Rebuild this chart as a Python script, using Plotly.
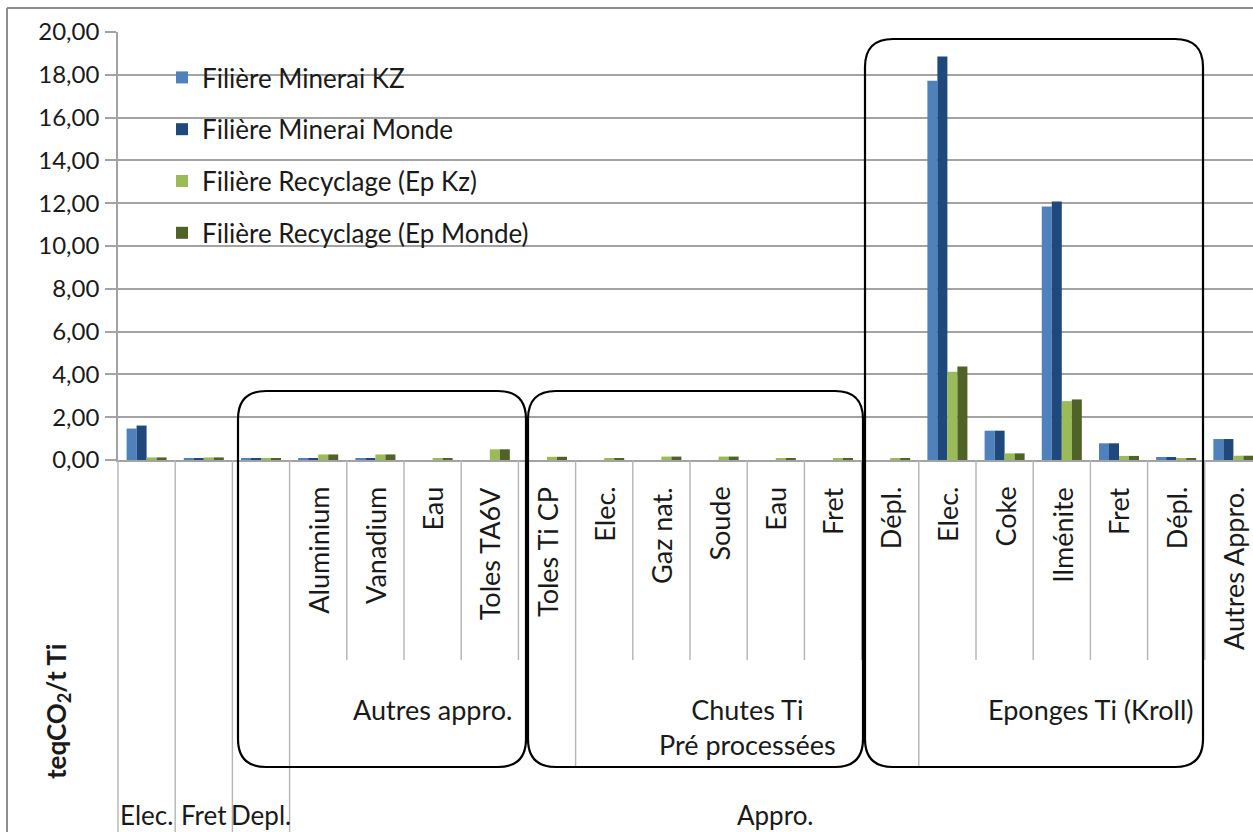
import plotly.graph_objects as go

# ---------------- data ----------------
categories = ["Elec.", "Fret", "Depl.",
              "Aluminium", "Vanadium", "Eau", "Toles TA6V", "Toles Ti CP",
              "Elec.", "Gaz nat.", "Soude", "Eau", "Fret", "Dépl.",
              "Elec.", "Coke", "Ilménite", "Fret", "Dépl.", "Autres Appro."]
# rotated labels (first level); the first three categories only have a bottom label
level1_labels = ["", "", "",
                 "Aluminium", "Vanadium", "Eau", "Toles TA6V", "Toles Ti CP",
                 "Elec.", "Gaz nat.", "Soude", "Eau", "Fret", "Dépl.",
                 "Elec.", "Coke", "Ilménite", "Fret", "Dépl.", "Autres Appro."]
# (label, first index, last index)
level2_groups = [("Autres appro.", 3, 7),
                 ("Chutes Ti<br>Pré processées", 8, 13),
                 ("Eponges Ti (Kroll)", 14, 19)]
level3_groups = [("Elec.", 0, 0), ("Fret", 1, 1), ("Depl.", 2, 2), ("Appro.", 3, 19)]

series_names = ["Filière Minerai KZ", "Filière Minerai Monde",
                "Filière Recyclage (Ep Kz)", "Filière Recyclage (Ep Monde)"]
minerai_kz = [1.47, 0.06, 0.06, 0.08, 0.08, 0.00, 0.00, 0.00,
              0.00, 0.00, 0.00, 0.00, 0.00, 0.00,
              17.72, 1.37, 11.85, 0.78, 0.14, 0.98]
minerai_monde = [1.61, 0.06, 0.06, 0.08, 0.08, 0.00, 0.00, 0.00,
                 0.00, 0.00, 0.00, 0.00, 0.00, 0.00,
                 18.85, 1.37, 12.08, 0.78, 0.14, 0.98]
recyclage_kz = [0.12, 0.12, 0.06, 0.26, 0.26, 0.08, 0.50, 0.15,
                0.08, 0.16, 0.16, 0.07, 0.06, 0.06,
                4.12, 0.31, 2.75, 0.19, 0.06, 0.20]
recyclage_monde = [0.12, 0.12, 0.06, 0.26, 0.26, 0.08, 0.50, 0.15,
                   0.08, 0.16, 0.16, 0.07, 0.06, 0.06,
                   4.37, 0.31, 2.83, 0.19, 0.06, 0.20]
series_values = [minerai_kz, minerai_monde, recyclage_kz, recyclage_monde]
y_max = 20
y_step = 2

# ---------------- style / geometry ----------------
colors = ["#4F81BD", "#1F497D", "#9BBB59", "#4F6228"]
FONT = "Lato"
TXT = "#1a1a1a"
GRID = "#A3A3A3"
SEP = "#B4B4B4"
LAB_SIZE = 27

W, H = 1253, 832
PL, PR, PT, PB = 118, 1253, 32, 460       # plot area in pixels
CAT_W = 57.2                               # pixel width of one category
x_lo = -0.5
x_hi = x_lo + (PR - PL) / CAT_W            # last category is cut by the page edge


def pxx(p):
    return (p - PL) / (PR - PL)


def pxy(p):
    return (PB - p) / (PB - PT)


def dx2px(x):
    return PL + (x - x_lo) * CAT_W


x_idx = list(range(len(categories)))

fig = go.Figure()
for name, vals, col in zip(series_names, series_values, colors):
    fig.add_trace(go.Bar(
        x=x_idx, y=vals, name=name, legendgroup=name,
        marker=dict(color=col, line=dict(width=0)),
        hovertext=categories, hoverinfo="text+y+name",
    ))

shapes = []
annotations = []

# page border (top and left)
shapes.append(dict(type="line", xref="paper", yref="paper",
                   x0=pxx(7), x1=pxx(W + 5), y0=pxy(8), y1=pxy(8),
                   line=dict(color="#8E8E8E", width=2)))
shapes.append(dict(type="line", xref="paper", yref="paper",
                   x0=pxx(7), x1=pxx(7), y0=pxy(8), y1=pxy(H + 5),
                   line=dict(color="#8E8E8E", width=2)))

# category separators
full_bounds = [0, 1, 2, 3]
lvl2_bounds = [8, 14]
for k in range(0, len(categories) + 1):
    xb = dx2px(k - 0.5)
    if xb > PR + 1:
        continue
    if k in full_bounds:
        yb = H + 5
    elif k in lvl2_bounds:
        yb = 768
    else:
        yb = 660
    shapes.append(dict(type="line", xref="paper", yref="paper",
                       x0=pxx(xb), x1=pxx(xb), y0=pxy(PB), y1=pxy(yb),
                       line=dict(color=SEP, width=1.4)))

# level 1 rotated labels
for i, lab in enumerate(level1_labels):
    if not lab:
        continue
    annotations.append(dict(x=i, xref="x", y=pxy(485), yref="paper",
                            text=lab, textangle=-90, showarrow=False,
                            xanchor="center", yanchor="top",
                            font=dict(family=FONT, size=LAB_SIZE, color=TXT)))

# level 2 group labels
for lab, a, b in level2_groups:
    ymid = 727 if "<br>" in lab else 709
    annotations.append(dict(x=(a + b) / 2, xref="x",
                            y=pxy(ymid), yref="paper",
                            text=lab, showarrow=False, xanchor="center", yanchor="middle",
                            font=dict(family=FONT, size=LAB_SIZE, color=TXT)))

# level 3 labels
for lab, a, b in level3_groups:
    annotations.append(dict(x=(a + b) / 2, xref="x", y=pxy(815), yref="paper",
                            text=lab, showarrow=False, xanchor="center", yanchor="middle",
                            font=dict(family=FONT, size=LAB_SIZE - 1, color=TXT)))

# y axis title
annotations.append(dict(x=pxx(57), xref="paper", y=pxy(712), yref="paper",
                        text="<b>teqCO<sub>2</sub>/t Ti</b>", textangle=-90, showarrow=False,
                        xanchor="center", yanchor="middle",
                        font=dict(family=FONT, size=26, color=TXT)))


# hand-drawn rounded frames
def rrect(x0, y0, x1, y1, r):
    pts = [("M", x0 + r, y0), ("L", x1 - r, y0), ("Q", x1, y0, x1, y0 + r),
           ("L", x1, y1 - r), ("Q", x1, y1, x1 - r, y1), ("L", x0 + r, y1),
           ("Q", x0, y1, x0, y1 - r), ("L", x0, y0 + r), ("Q", x0, y0, x0 + r, y0)]
    out = []
    for p in pts:
        cmd = p[0]
        coords = p[1:]
        s = []
        for j in range(0, len(coords), 2):
            s.append(f"{pxx(coords[j]):.5f},{pxy(coords[j + 1]):.5f}")
        out.append(cmd + " ".join(s))
    return " ".join(out) + " Z"


for (x0, y0, x1, y1) in [(238, 391, 526, 767), (528, 391, 863, 767), (865, 39, 1203, 767)]:
    shapes.append(dict(type="path", xref="paper", yref="paper",
                       path=rrect(x0, y0, x1, y1, 28),
                       line=dict(color="black", width=2.2), fillcolor="rgba(0,0,0,0)"))

fig.update_layout(
    width=W, height=H,
    margin=dict(l=PL, r=W - PR, t=PT, b=H - PB, pad=0),
    paper_bgcolor="white", plot_bgcolor="white",
    separators=", ",
    barmode="group", bargap=0.3, bargroupgap=0,
    showlegend=True,
    legend=dict(x=pxx(162), y=pxy(54), xanchor="left", yanchor="top",
                font=dict(family=FONT, size=26, color=TXT),
                bgcolor="rgba(0,0,0,0)", tracegroupgap=15,
                itemclick=False, itemdoubleclick=False),
    shapes=shapes, annotations=annotations,
    font=dict(family=FONT, color=TXT),
)
fig.update_xaxes(range=[x_lo, x_hi], showticklabels=False, ticks="",
                 showgrid=False, zeroline=False, showline=True,
                 linecolor=GRID, linewidth=1.6, fixedrange=True)
fig.update_yaxes(range=[0, y_max], dtick=y_step, tick0=0, tickformat=".2f",
                 showgrid=True, gridcolor=GRID, gridwidth=1.6,
                 zeroline=False, showline=True, linecolor=GRID, linewidth=1.6,
                 ticks="outside", ticklen=11, tickcolor=GRID, tickwidth=1.6,
                 tickfont=dict(family=FONT, size=24, color=TXT),
                 ticklabelstandoff=1, fixedrange=True)

fig.write_html("out.html")
